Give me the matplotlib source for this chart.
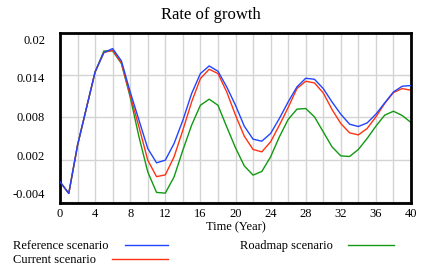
import matplotlib
matplotlib.use("Agg")
import matplotlib.pyplot as plt
from matplotlib.lines import Line2D
import numpy as np

years = list(range(0, 41))
reference = [-0.00113, -0.00278, 0.00407, 0.00928, 0.01447, 0.01722, 0.01779, 0.01603, 0.01163, 0.00762,
             0.00360, 0.00156, 0.00194, 0.00431, 0.00760, 0.01140, 0.01424, 0.01532, 0.01457, 0.01234,
             0.00974, 0.00677, 0.00492, 0.00464, 0.00573, 0.00786, 0.01021, 0.01234, 0.01357, 0.01343,
             0.01211, 0.01021, 0.00847, 0.00705, 0.00672, 0.00723, 0.00847, 0.01007, 0.01163, 0.01244,
             0.01254]
current = [-0.00113, -0.00278, 0.00407, 0.00928, 0.01447, 0.01722, 0.01755, 0.01574, 0.01116, 0.00667,
           0.00194, -0.00040, -0.00015, 0.00241, 0.00620, 0.01021, 0.01353, 0.01485, 0.01424, 0.01163,
           0.00833, 0.00535, 0.00346, 0.00312, 0.00454, 0.00691, 0.00942, 0.01211, 0.01315, 0.01291,
           0.01149, 0.00913, 0.00715, 0.00582, 0.00553, 0.00644, 0.00809, 0.00999, 0.01154, 0.01211,
           0.01187]
roadmap = [-0.00113, -0.00278, 0.00407, 0.00928, 0.01447, 0.01745, 0.01745, 0.01566, 0.01090, 0.00525,
           0.00028, -0.00264, -0.00274, -0.00043, 0.00336, 0.00691, 0.00974, 0.01060, 0.00974, 0.00667,
           0.00370, 0.00113, -0.00018, 0.00034, 0.00241, 0.00525, 0.00772, 0.00918, 0.00928, 0.00809,
           0.00596, 0.00383, 0.00255, 0.00246, 0.00346, 0.00502, 0.00677, 0.00833, 0.00889, 0.00828,
           0.00729]

ytick_vals = [-0.004, 0.002, 0.008, 0.014, 0.02]
ytick_labels = ["-0.004", "0.002", "0.008", "0.014", "0.02"]
xtick_vals = list(range(0, 41, 4))

plt.rcParams['font.family'] = ['Liberation Serif', 'DejaVu Serif']

W, H = 422, 275
fig = plt.figure(figsize=(W / 100, H / 100), dpi=100)
ax = fig.add_axes([60 / W, 1 - 202.7 / H, 351 / W, 169.7 / H])

c_ref = '#2244ff'
c_cur = '#ff3311'
c_road = '#119911'

ax.plot(years, reference, color=c_ref, lw=1.0, zorder=3)
ax.plot(years, current, color=c_cur, lw=1.0, zorder=2)
ax.plot(years, roadmap, color=c_road, lw=1.0, zorder=1)

ax.set_xlim(0, 40)
ax.set_ylim(-0.0041, 0.02)
ax.set_xticks(xtick_vals)
ax.set_xticks(list(range(0, 41, 2)), minor=True)
ax.set_yticks(ytick_vals)
ax.set_yticklabels([])
ax.tick_params(axis='both', which='both', length=0)
ax.tick_params(axis='x', labelsize=9, pad=4)
ax.grid(True, which='both', axis='x', color='#d4d4d4', lw=1.0)
ax.grid(True, which='major', axis='y', color='#d4d4d4', lw=1.0)
ax.set_axisbelow(True)
for s in ax.spines.values():
    s.set_linewidth(2.0)
    s.set_color('black')

# y tick labels (evenly spaced as in the reference)
label_fracs = np.linspace(1 - (41 - 33) / 169.7, 1 - (195 - 33) / 169.7, len(ytick_labels))
for frac, lab in zip(label_fracs, ytick_labels[::-1]):
    ax.text(-15 / 351, frac, lab, transform=ax.transAxes, ha='right', va='center', fontsize=9)

ax.set_xlabel("Time (Year)", fontsize=9, labelpad=1)
fig.text(0.5, 1 - 15 / H, "Rate of growth", ha='center', va='center', fontsize=12)

# legend
def leg(x_text, y, label, x0, x1, color):
    fig.text(x_text / W, 1 - y / H, label, ha='left', va='center', fontsize=9)
    fig.add_artist(Line2D([x0 / W, x1 / W], [1 - (y - 1) / H, 1 - (y - 1) / H],
                          color=color, lw=1.0, transform=fig.transFigure))

leg(13, 246, "Reference scenario", 125, 168, c_ref)
leg(13, 260, "Current scenario", 112, 168, c_cur)
leg(240, 246, "Roadmap scenario", 348, 394, c_road)

fig.savefig("out.png", dpi=100)
